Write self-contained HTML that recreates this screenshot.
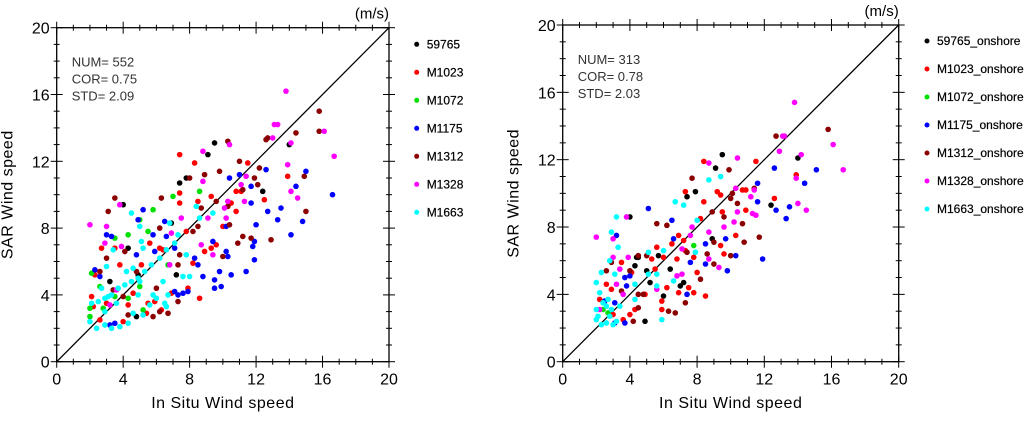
<!DOCTYPE html>
<html><head><meta charset="utf-8"><style>
body{margin:0;background:#fff;width:1024px;height:416px;overflow:hidden}
svg{font-family:"Liberation Sans",sans-serif}
</style></head><body>
<svg id="chart" width="1024" height="416"></svg>
<script>
const ticks=[0,4,8,12,16,20];
const seriesNames=["59765","M1023","M1072","M1175","M1312","M1328","M1663"];
const colors=["#000","#ff0000","#00e000","#0000ff","#8b0000","#ff00ff","#00ffff"];
const leftStats=["NUM=  552","COR=  0.75","STD=  2.09"];
const rightStats=["NUM=  313","COR=  0.78","STD=  2.03"];
const L_black=[[9.5,13.1],[9.1,12.4],[7.4,10.7],[7.8,11],[14,13],[12.4,10.2],[4,9.4],[4.3,6.8],[4.9,5.2],[6.9,8.3],[4.8,2.7],[7.2,5.2],[3.2,4.8]];
const L_red=[[7.4,12.4],[8.3,11.9],[7.4,10.1],[9.3,9.9],[8.5,9.6],[7.4,9.5],[10.5,9.5],[10.8,10.2],[11.1,10.2],[11.5,11.9],[12.5,9.7],[13.9,11.1],[10,8.1],[10.8,9],[9.6,7],[8.9,6.6],[7.8,7.8],[6.2,6.8],[5.6,7.1],[3.5,6.8],[2.7,6.8],[2.3,5.2],[2.1,3.9],[2.2,3.3],[3,3.5],[4.3,3.4],[4.6,4.1],[5.5,3.5],[5.9,3.6],[6.3,3.1],[8.6,3.8],[7.9,4.4],[8.2,5.9],[9.3,6.8],[3.8,5.8],[5.1,5.8],[6.4,6.7],[5.4,2.9],[6.9,4.1],[2.6,2.5],[4,2.4]];
const L_green=[[8.6,10.2],[7,9.9],[5.8,9.1],[5,8.5],[5.5,7.8],[4.3,7.6],[3.5,7.4],[2.1,5.3],[2.6,4.5],[2,3.2],[2,2.7],[3.5,3.9],[5,4.5],[2.8,3.2],[6.7,5.8],[4.3,3.8],[5.2,3.1]];
const L_blue=[[12.6,11.5],[10.4,11],[11,11.2],[11.7,10.5],[11.7,9.5],[14.4,10.5],[15,11.4],[16.6,10],[14.8,8.4],[13.5,9.2],[13.3,8.5],[12.7,9],[14.1,7.6],[12,8.2],[11.9,7.2],[11.9,6.1],[11.8,6.9],[11.4,5.4],[10.5,5.2],[9.9,4.5],[9.5,4.9],[9.5,4.4],[9.8,5.4],[10.3,6.3],[10.2,6.6],[10.2,8.1],[9.4,7.2],[8.8,5.1],[8.5,5.8],[8.3,6.2],[7.9,4.2],[7.6,4.1],[7.3,4],[7.1,4.2],[6.6,7.5],[7.1,6.8],[5.8,7.6],[5.2,9.1],[4.9,8.5],[3,7.6],[3.3,7.5],[2.3,5.5],[2.6,5.1],[3.5,2.3],[3.2,2.2],[4.8,6.4],[5.9,6.6],[6.5,8.4]];
const L_dred=[[15.8,15],[15.8,13.8],[14.4,13.7],[12.7,13.4],[12.6,13.3],[11,12],[10.3,13.2],[9.8,11.4],[8.9,11.2],[8,11],[12.2,11.6],[12.1,10.6],[11.9,11],[11.2,10.3],[9.6,9.6],[10.3,9.3],[10.4,8.2],[10.9,7.1],[11.2,7.5],[11.7,7.4],[12.9,7.3],[14.9,11.1],[15,9],[10,6.3],[8.5,8.1],[8.7,9.2],[8.2,7.8],[7.4,6.4],[7.3,5.8],[7.3,3.6],[6.7,2.9],[6.2,3],[5.8,2.7],[4.3,2.8],[3.1,9],[3.5,9.8],[6.3,9.8],[6.2,8],[4.1,6.6],[3,6.2],[2.6,5.4],[3.4,4.3],[4.8,5.4],[6,4.4],[4,3.9]];
const L_mag=[[13.8,16.2],[13.1,14.2],[13.3,14.2],[13,13.4],[16.1,13.8],[14.1,13.1],[16.7,12.3],[13.9,11.8],[14.1,10.2],[14.5,9.8],[11.4,11.1],[11.3,9.6],[11.1,10.6],[10.4,13],[8.8,12.6],[8.8,10.8],[10.1,9.2],[10.3,9.6],[10.2,8.6],[9.1,8.6],[7.5,8.6],[6.9,7.7],[2,8.2],[3,8.1],[3.8,9.4],[3.9,6.9],[2.9,7.1],[8.7,7],[6.8,5.8],[9.4,6.4],[3.2,3.4],[3.6,4.3]];
const L_cyan=[[4.5,8.9],[5,8.1],[5.1,7.2],[5.2,6.8],[6.8,8.3],[8.4,9.3],[8.6,8.6],[9.4,8.9],[7.3,7.6],[7.1,7.1],[6.6,6.7],[6.2,6.2],[5.7,5.8],[5.3,5.4],[4.9,5],[4.5,4.8],[4.1,4.6],[3.7,4.4],[3.3,4],[2.9,3.8],[2.5,3.6],[2.1,3.5],[2,2.4],[2.4,2],[2.9,2.2],[3.3,2],[3.8,2.1],[4.3,2.3],[4.6,2.9],[5.2,2.8],[5.6,3.4],[6,3.8],[6.5,3.5],[6.6,3.3],[6.7,4],[7.6,5.1],[8,5.1],[4.6,5.6],[5,4.8],[4.2,5.4],[3,5.7],[3.4,6.7],[2.7,4.4],[2.9,3],[3.6,3.5],[4.9,4],[5.8,4],[6.4,4.8],[7.8,6.4],[3.1,3.9]];
const R_black=[[9.5,12.3],[9.1,11.5],[14,12.1],[7.9,10.1],[7.4,9.8],[12.4,9.3],[4,8.6],[4.4,6.2],[4.3,5.7],[4.5,6.2],[5.2,4.7],[5,5.4],[6,3.9],[6.4,5.5],[7.2,4.7],[4.9,2.4],[8.9,7.3],[5.7,6.3],[7,4.5]];
const R_red=[[8.4,11.9],[11.5,11.9],[7.3,10.1],[9.2,10.1],[10.7,10.2],[10.9,10.2],[8.4,9.5],[9.4,9.9],[9.5,8.9],[8.2,8.5],[12.6,9.7],[13.9,11.1],[7.2,7.2],[6.9,7.5],[6.5,7],[6.8,6.1],[7.3,6.6],[7.8,6.2],[8,5.3],[8.5,3.9],[7.8,4.1],[7.5,4.4],[6.9,4.1],[6.2,4.4],[5.9,3.1],[5.9,3.6],[4.9,4],[4.3,3.1],[4,2.8],[3.6,2.5],[3,2.8],[2.9,4.3],[2.6,4.6],[2.2,3.7],[3.5,5.9],[4.1,5.3],[5.5,5.5],[5.6,6.8],[5.3,6.1],[6,6.2],[9.4,6.9],[9.6,6.4],[10.3,7.5],[10.9,9]];
const R_green=[[2.4,3.1],[2.7,2.9],[7.8,6.9]];
const R_blue=[[12.6,11.5],[11.6,10.6],[15.1,11.4],[14.4,10.6],[11.6,9.5],[12.7,9],[13.5,9.2],[13.3,8.5],[11.9,6.1],[9.8,5.4],[10.3,6.3],[9.7,7.3],[8.5,7],[8.5,5.8],[7.6,5.9],[7.4,4],[6.5,8.4],[5.1,9.1],[3.2,7.5],[6.6,7.3],[3.7,5],[4,5.1],[3.8,4.5],[3.1,3.5],[2.5,3.6],[3.7,2.3],[3.1,2.3]];
const R_dred=[[12.7,13.4],[15.8,13.8],[9.9,11.4],[7.7,10.9],[11.4,10.3],[10,9.7],[10.4,9.4],[10.1,10],[9.6,8.6],[8.9,8.9],[10.7,8.2],[10.8,7.1],[11.7,7.4],[10,6.3],[9,7.1],[9,5.8],[8.6,6.4],[8.2,4.9],[7.4,6.5],[6.3,3],[6.7,2.9],[7.3,3.5],[5.6,8.2],[6.2,8.1],[4.5,6.3],[5,6.3],[4.5,4],[4.8,4],[4,5.4],[3.5,4.2],[2.9,5.9],[2.6,5.4],[4.2,2.4],[4.5,3.2]];
const R_mag=[[13.8,15.4],[13.1,13.4],[13.2,13.4],[16.1,12.9],[14.2,12.3],[12.9,12.5],[10.4,12.1],[8.7,11.8],[13.9,10.9],[16.7,11.4],[11.4,10.2],[11.2,9.8],[14,9.4],[14.5,9],[11.5,8.7],[11.3,8.8],[10.4,8.9],[10.2,8.3],[10.3,10.3],[9.6,8],[8.7,7.7],[7.7,8],[7.6,7.5],[7.1,6.7],[6.8,5.1],[7.1,5.2],[9.3,5.6],[8.7,6.1],[2,7.4],[3,7.3],[3.8,8.6],[3.9,6.2],[3,6.2],[3.4,5.5],[3.2,4.6],[3.6,4],[2.2,3.1],[5.6,4.3]];
const R_cyan=[[3.2,8.6],[2.9,7.7],[3.3,6.8],[2.8,6],[5.1,6.5],[6,6.6],[6.7,9.5],[7.2,9.3],[8,8.4],[8.7,10.8],[9.4,11],[7.9,6.5],[5.6,5.2],[5.6,4.5],[5.1,5.2],[4.3,4.6],[3.1,5.2],[2.3,5.3],[2,4.7],[2.2,4.1],[2,3.1],[2,2.5],[2.3,2.2],[2.6,2.3],[2.8,2.7],[3.2,2.4],[3.4,3.3],[3,2.2],[2.6,3.3],[6.6,4.8],[5.9,2.5],[2.7,3.7],[2.9,3.1],[4.3,3.7],[2.1,2.7],[2.4,3.5]];

const NS="http://www.w3.org/2000/svg";
const svg=document.getElementById('chart');
function el(tag,attrs,parent,text){const e=document.createElementNS(NS,tag);for(const k in attrs)e.setAttribute(k,attrs[k]);if(text!==undefined)e.textContent=text;(parent||svg).appendChild(e);return e;}

function panel(cfg){
  const g=el('g',{});
  
  
  const {x0,x1,y0,y1}=cfg;
  const sx=v=>x0+(x1-x0)*v/20, sy=v=>y0-(y0-y1)*v/20;
  for(let v=0;v<=20;v++){
    const major=v%4===0, len=major?6:3;
    const X=sx(v),Y=sy(v);
    el('line',{x1:X,y1:y0-len,x2:X,y2:y0+len,stroke:'#000','stroke-width':1},g);
    el('line',{x1:X,y1:y1-len,x2:X,y2:y1+len,stroke:'#000','stroke-width':1},g);
    el('line',{x1:x0-len,y1:Y,x2:x0+len,y2:Y,stroke:'#000','stroke-width':1},g);
    el('line',{x1:x1-len,y1:Y,x2:x1+len,y2:Y,stroke:'#000','stroke-width':1},g);
  }
  const frame=el('rect',{x:x0,y:y1,width:x1-x0,height:y0-y1,fill:'none',stroke:'#000','stroke-width':1.3},g);
  
  
  ticks.forEach(t=>{
    const a=el('text',{x:sx(t),y:y0+23,'font-size':16,'text-anchor':'middle'},g,String(t));
    
    
    const b=el('text',{x:x0-7,y:sy(t)+6,'font-size':16,'text-anchor':'end'},g,String(t));
    
    
  });
  const xt=el('text',{x:(x0+x1)/2,y:408,'font-size':16,'text-anchor':'middle','letter-spacing':'0.5'},g,'In Situ Wind speed');
  
  
  const yx=x0-44, yy=(y0+y1)/2;
  const yt=el('text',{x:yx,y:yy,'font-size':16,'text-anchor':'middle','letter-spacing':'0.5',transform:`rotate(-90 ${yx} ${yy})`},g,'SAR Wind speed');
  
  
  const un=el('text',{x:x1,y:y1-9,'font-size':15,'text-anchor':'end','fill':'#000'},g,'(m/s)');
  
  
  const diag=el('line',{x1:sx(0),y1:sy(0),x2:sx(20),y2:sy(20),stroke:'#000','stroke-width':1.3},g);
  
  
  cfg.stats.forEach((s,i)=>{
    const t=el('text',{x:x0+15,y:y1+39+i*17,'font-size':13,fill:'#333'},g,s);
    
    
  });
  cfg.series.forEach((pts,si)=>{
    pts.forEach(p=>{
      const c=el('circle',{cx:sx(p[0]),cy:sy(p[1]),r:2.8,fill:colors[si]},g);
      
      
    });
  });
  seriesNames.forEach((n,i)=>{
    const ly=cfg.legY+i*28;
    const d=el('circle',{cx:cfg.legX,cy:ly,r:2.5,fill:colors[i]},g);
    
    
    const t=el('text',{x:cfg.legX+10,y:ly+4,'font-size':12,'font-weight':'500','stroke':'#000','stroke-width':0.2},g,n+cfg.suffix);
    
    
  });
}
panel({name:'left-scatter-panel',x0:56.7,x1:389,y0:361.7,y1:27.7,stats:leftStats,series:[L_black,L_red,L_green,L_blue,L_dred,L_mag,L_cyan],legX:416.7,legY:44.3,suffix:''});
panel({name:'right-scatter-panel',x0:562.7,x1:898.7,y0:361.7,y1:25,stats:rightStats,series:[R_black,R_red,R_green,R_blue,R_dred,R_mag,R_cyan],legX:927,legY:41,suffix:'_onshore'});
</script>
</body></html>
